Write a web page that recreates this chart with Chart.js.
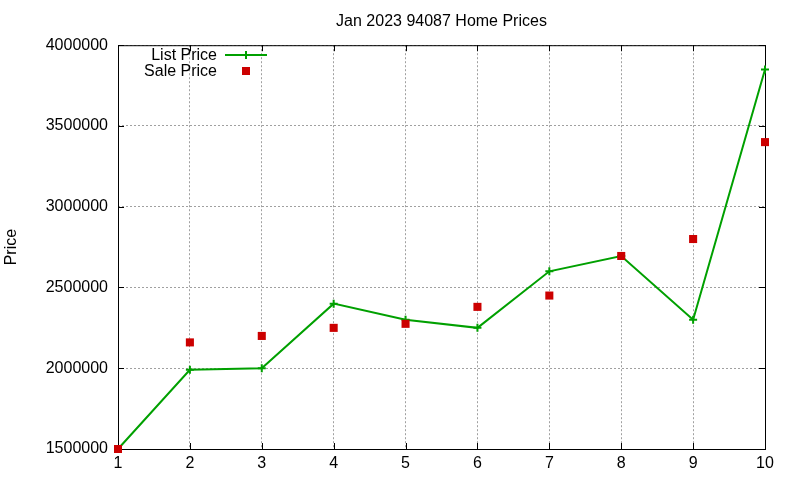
<!DOCTYPE html>
<html>
<head>
<meta charset="utf-8">
<script src="https://cdn.jsdelivr.net/npm/chart.js"></script>
<style>
  html, body { margin: 0; padding: 0; background: #fff; }
  #wrap { width: 800px; height: 480px; }
</style>
</head>
<body>
<div id="wrap"><canvas id="priceChart" width="800" height="480"></canvas></div>
<script>
const houses = [1, 2, 3, 4, 5, 6, 7, 8, 9, 10];
const listPrice = [1500000, 1990000, 2000000, 2400000, 2300000, 2250000, 2600000, 2695000, 2300000, 3850000];
const salePrice = [1500000, 2160000, 2200000, 2250000, 2275000, 2380000, 2450000, 2695000, 2800000, 3400000];
const yTicks = [1500000, 2000000, 2500000, 3000000, 3500000, 4000000];

const FONT = "'Liberation Sans', Arial, sans-serif";
const GREEN = "#00a000";
const RED = "#cc0000";

// gnuplot style box with inward ticks on all four sides
const frame = {
    id: "frame",
    beforeDatasetsDraw(chart) {
        const { ctx, chartArea: a, scales } = chart;
        ctx.save();
        ctx.strokeStyle = "#000";
        ctx.lineWidth = 1;
        ctx.strokeRect(a.left + 0.5, a.top + 0.5, a.right - a.left, a.bottom - a.top);
        ctx.beginPath();
        scales.x.ticks.forEach(t => {
            const px = Math.round(scales.x.getPixelForValue(t.value)) + 0.5;
            ctx.moveTo(px, a.bottom); ctx.lineTo(px, a.bottom - 6);
            ctx.moveTo(px, a.top); ctx.lineTo(px, a.top + 6);
        });
        scales.y.ticks.forEach(t => {
            const py = Math.round(scales.y.getPixelForValue(t.value)) + 0.5;
            ctx.moveTo(a.left, py); ctx.lineTo(a.left + 6, py);
            ctx.moveTo(a.right, py); ctx.lineTo(a.right - 6, py);
        });
        ctx.stroke();
        ctx.restore();
    },
    afterDraw(chart) {
        const ctx = chart.ctx;
        const ds = chart.data.datasets;
        ctx.save();
        ctx.font = "16px " + FONT;
        ctx.fillStyle = "#000";
        ctx.textAlign = "right";
        ctx.textBaseline = "middle";
        // list price entry
        ctx.fillText(ds[1].label, 217, 56);
        ctx.strokeStyle = GREEN;
        ctx.lineWidth = 2;
        ctx.beginPath();
        ctx.moveTo(225, 55); ctx.lineTo(267, 55);
        ctx.moveTo(246, 51); ctx.lineTo(246, 59);
        ctx.stroke();
        // sale price entry
        ctx.fillText(ds[0].label, 217, 72);
        ctx.fillStyle = RED;
        ctx.fillRect(242, 67, 8, 8);
        ctx.restore();
    }
};

const ctx = document.getElementById("priceChart").getContext("2d");
new Chart(ctx, {
    type: "line",
    data: {
        datasets: [{
            label: "Sale Price",
            data: houses.map((h, i) => ({ x: h, y: salePrice[i] })),
            showLine: false,
            pointStyle: "rect",
            pointRadius: 5.7,
            pointBorderWidth: 0,
            pointBackgroundColor: RED,
            pointBorderColor: RED,
            borderColor: RED,
            backgroundColor: RED,
            clip: false,
            order: 0
        }, {
            label: "List Price",
            data: houses.map((h, i) => ({ x: h, y: listPrice[i] })),
            borderColor: GREEN,
            borderWidth: 2,
            tension: 0,
            fill: false,
            pointStyle: "cross",
            pointRadius: 4,
            pointBorderWidth: 2,
            pointBorderColor: GREEN,
            pointBackgroundColor: GREEN,
            clip: false,
            order: 1
        }]
    },
    options: {
        responsive: false,
        animation: false,
        devicePixelRatio: 1,
        layout: { padding: { top: 0, right: 35, left: 0, bottom: 0 } },
        plugins: {
            legend: { display: false },
            tooltip: { enabled: false },
            title: {
                display: true,
                text: "Jan 2023 94087 Home Prices",
                fullSize: false,
                color: "#000",
                font: { family: FONT, size: 16, weight: "normal" },
                padding: { top: 12, bottom: 14 }
            }
        },
        scales: {
            x: {
                type: "linear",
                min: 1,
                max: 10,
                afterFit: s => { s.height = 31; },
                afterBuildTicks: s => { s.ticks = houses.map(v => ({ value: v })); },
                ticks: {
                    color: "#000",
                    font: { family: FONT, size: 16 },
                    padding: 5,
                    callback: v => String(v)
                },
                grid: { color: "#a0a0a0", lineWidth: 1, drawTicks: false },
                border: { display: false, dash: [2, 2] }
            },
            y: {
                type: "linear",
                min: 1500000,
                max: 4000000,
                afterFit: s => { s.width = 118; },
                afterBuildTicks: s => { s.ticks = yTicks.map(v => ({ value: v })); },
                ticks: {
                    color: "#000",
                    font: { family: FONT, size: 16 },
                    padding: 10,
                    callback: v => String(v)
                },
                grid: { color: "#a0a0a0", lineWidth: 1, drawTicks: false },
                border: { display: false, dash: [2, 2] },
                title: {
                    display: true,
                    text: "Price",
                    color: "#000",
                    font: { family: FONT, size: 16 },
                    padding: { top: 2, bottom: 0 }
                }
            }
        }
    },
    plugins: [frame]
});
</script>
</body>
</html>
